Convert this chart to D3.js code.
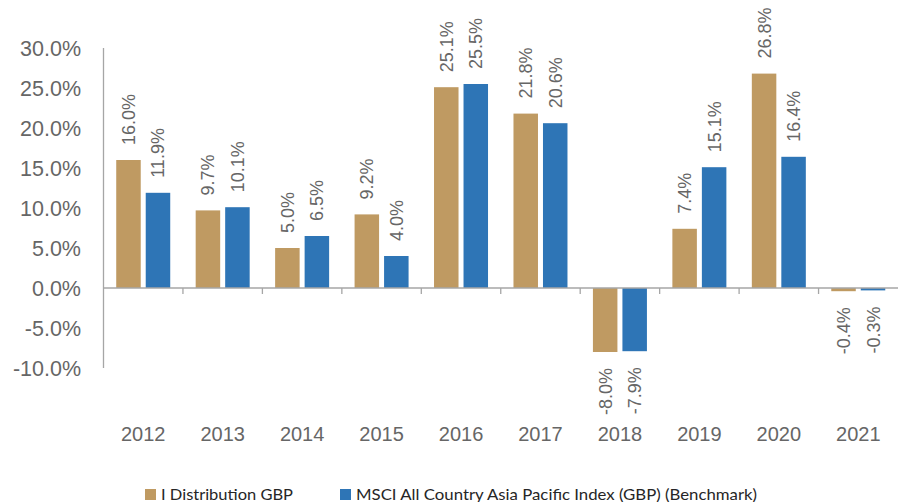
<!DOCTYPE html>
<html><head><meta charset="utf-8">
<script src="https://cdn.jsdelivr.net/npm/d3@7"></script>
<style>body{margin:0;background:#fff}svg{display:block}</style>
</head><body><svg id="c" width="898" height="502"></svg>
<script>
const years = ["2012","2013","2014","2015","2016","2017","2018","2019","2020","2021"];
const fund = [16.0, 9.7, 5.0, 9.2, 25.1, 21.8, -8.0, 7.4, 26.8, -0.4];
const bench = [11.9, 10.1, 6.5, 4.0, 25.5, 20.6, -7.9, 15.1, 16.4, -0.3];
const yTicks = [-10, -5, 0, 5, 10, 15, 20, 25, 30];
const seriesNames = ["I Distribution GBP", "MSCI All Country Asia Pacific Index (GBP) (Benchmark)"];
const colors = ["#BF9A62", "#2E75B6"];

const svg = d3.select("#c");
const x = d3.scaleBand().domain(years).range([103.5, 898]);
const y = d3.scaleLinear().domain([-10, 30]).range([368, 48]);
const barW = 24.5, gap = 5;
const offs = [-(barW + gap/2), gap/2];
const data = [fund, bench];
const labelColor = "#666666";

// y axis labels
svg.append("g").selectAll("text").data(yTicks).join("text")
  .attr("x", 81).attr("y", d => y(d)).attr("dy", "0.36em")
  .attr("text-anchor", "end")
  .attr("font-family", "Liberation Sans, Arial, sans-serif").attr("font-size", 21.5)
  .attr("fill", labelColor)
  .text(d => d.toFixed(1) + "%");

// bars
data.forEach((vals, si) => {
  svg.append("g").selectAll("rect").data(vals).join("rect")
    .attr("x", (d, i) => x(years[i]) + x.bandwidth()/2 + offs[si])
    .attr("width", barW)
    .attr("y", d => y(Math.max(0, d)))
    .attr("height", d => Math.abs(y(d) - y(0)))
    .attr("fill", colors[si]);
  svg.append("g").selectAll("text").data(vals).join("text")
    .attr("transform", (d, i) => {
      const cx = x(years[i]) + x.bandwidth()/2 + offs[si] + barW/2;
      const yy = d >= 0 ? y(d) - 15 : y(d) + 16;
      return `translate(${cx},${yy}) rotate(-90)`;
    })
    .attr("text-anchor", d => d >= 0 ? "start" : "end")
    .attr("dy", "0.36em")
    .attr("font-family", "Liberation Sans, Arial, sans-serif").attr("font-size", 18)
    .attr("fill", labelColor)
    .text(d => d.toFixed(1) + "%");
});

// axes lines
const ax = svg.append("g").attr("stroke", "#A6A6A6").attr("stroke-width", 1.3).attr("fill", "none");
ax.append("line").attr("x1", 103.5).attr("x2", 103.5).attr("y1", y(30)).attr("y2", y(-10));
ax.append("line").attr("x1", 103.5).attr("x2", 898).attr("y1", y(0)).attr("y2", y(0));
ax.selectAll("line.t").data(years.slice(1)).join("line").attr("class", "t")
  .attr("x1", d => x(d)).attr("x2", d => x(d)).attr("y1", y(0)).attr("y2", y(0) + 6);

// year labels
svg.append("g").selectAll("text").data(years).join("text")
  .attr("x", d => x(d) + x.bandwidth()/2).attr("y", 441)
  .attr("text-anchor", "middle")
  .attr("font-family", "Liberation Sans, Arial, sans-serif").attr("font-size", 20)
  .attr("fill", labelColor)
  .text(d => d);

// legend
const leg = [{x: 145, tx: 161, w: 132}, {x: 340, tx: 356, w: 401}];
leg.forEach((l, i) => {
  svg.append("rect").attr("x", l.x).attr("y", 489).attr("width", 11).attr("height", 11).attr("fill", colors[i]);
  svg.append("text").attr("x", l.tx).attr("y", 499.5)
    .attr("font-family", "Lato, Open Sans, sans-serif").attr("font-size", 16)
    .attr("fill", "#262626")
    .attr("textLength", l.w).attr("lengthAdjust", "spacingAndGlyphs")
    .text(seriesNames[i]);
});
</script></body></html>
